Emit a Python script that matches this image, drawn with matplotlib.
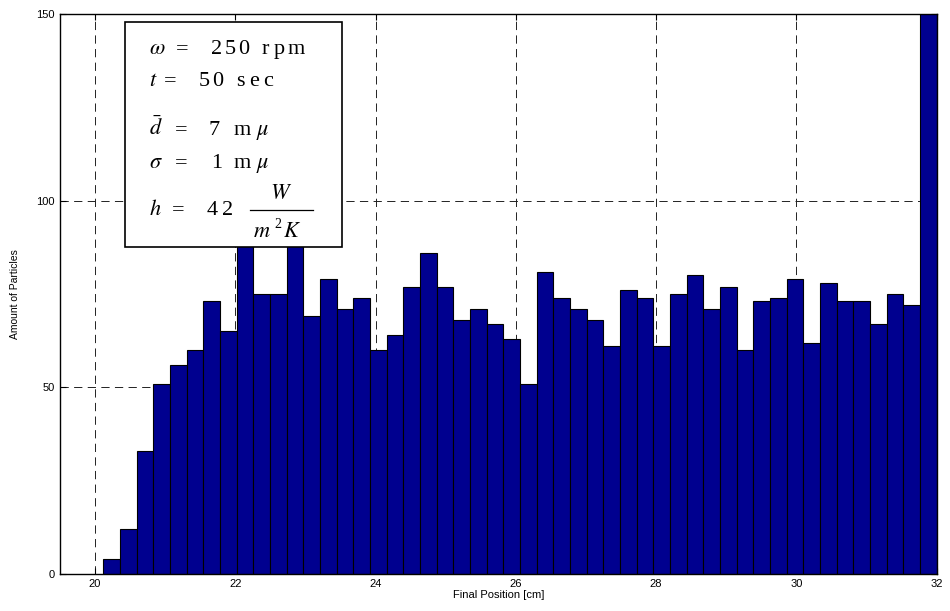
import numpy as np
import matplotlib.pyplot as plt

# histograma de posiciones finales (50 clases)
counts = [4, 12, 33, 51, 56, 60, 73, 65, 92, 75,
          75, 95, 69, 79, 71, 74, 60, 64, 77, 86,
          77, 68, 71, 67, 63, 51, 81, 74, 71, 68,
          61, 76, 74, 61, 75, 80, 71, 77, 60, 73,
          74, 79, 62, 78, 73, 73, 67, 75, 72, 180]
x_min = 20.12
x_max = 32.0
x_ticks = [20, 22, 24, 26, 28, 30, 32]
y_ticks = [0, 50, 100, 150]

plt.rcParams['mathtext.fontset'] = 'stix'

W, H = 950, 611
edges = np.linspace(x_min, x_max, len(counts) + 1)
widths = np.diff(edges)

fig = plt.figure(figsize = (W / 100, H / 100), dpi = 100)
ax = fig.add_axes([0.063, 0.0606, 0.923, 0.9165])
ax.bar(edges[:-1], counts, width = widths, align = 'edge',
       color = '#00008F', edgecolor = 'black', linewidth = 0.8)

ax.set_xlim(19.5, 32)
ax.set_ylim(0, 150)
ax.set_xticks(x_ticks)
ax.set_yticks(y_ticks)
ax.set_axisbelow(True)
ax.grid(True, linestyle = (0, (8.5, 5.5)), color = '#222222', linewidth = 0.7)
ax.tick_params(direction = 'in', top = True, right = True, length = 4,
               labelsize = 8)
for lab in ax.get_xticklabels() + ax.get_yticklabels():
    lab.set_family('Liberation Sans')
for s in ax.spines.values():
    s.set_linewidth(1.0)

ax.set_xlabel('Final Position [cm]', fontsize = 8, family = 'Liberation Sans', labelpad = 1)
ax.set_ylabel('Amount of Particles', fontsize = 7.5, family = 'Liberation Sans', labelpad = 12)

# cuadro de parametros
box = plt.Rectangle((0.074, 0.584), 0.2475, 0.402, transform = ax.transAxes,
                    facecolor = 'white', edgecolor = 'black', linewidth = 1.2, zorder = 5)
ax.add_patch(box)

def put(s, x, y, size = 16, ha = 'left'):
    # x, y en pixeles desde la esquina superior izquierda
    fig.text(x / W, 1 - y / H, s, fontsize = size, family = 'Liberation Serif',
             va = 'baseline', ha = ha, zorder = 10)

lineas = [
    (54,  [(r'$\omega$', 149), ('=', 176), ('2', 211), ('5', 225), ('0', 238),
           ('r', 262), ('p', 274), ('m', 288)]),
    (86,  [(r'$t$', 149), ('=', 164), ('5', 199), ('0', 212),
           ('s', 236), ('e', 249), ('c', 263)]),
    (135, [(r'$\bar{d}$', 149), ('=', 175), ('7', 208), ('m', 234), (r'$\mu$', 256)]),
    (168, [(r'$\sigma$', 149), ('=', 175), ('1', 211), ('m', 234), (r'$\mu$', 256)]),
    (215, [(r'$h$', 149), ('=', 172), ('4', 207), ('2', 222)]),
]
for y, tokens in lineas:
    for s, x in tokens:
        put(s, x, y)

# fraccion W / (m^2 K)
put(r'$W$', 281, 199, ha = 'center')
fig.add_artist(plt.Line2D([250 / W, 313 / W], [1 - 210 / H, 1 - 210 / H],
                          color = 'black', linewidth = 0.9, zorder = 10))
put(r'$m$', 253, 237)
put('2', 274, 228, size = 10)
put(r'$K$', 283, 237)

plt.savefig('out.png', dpi = 100)
